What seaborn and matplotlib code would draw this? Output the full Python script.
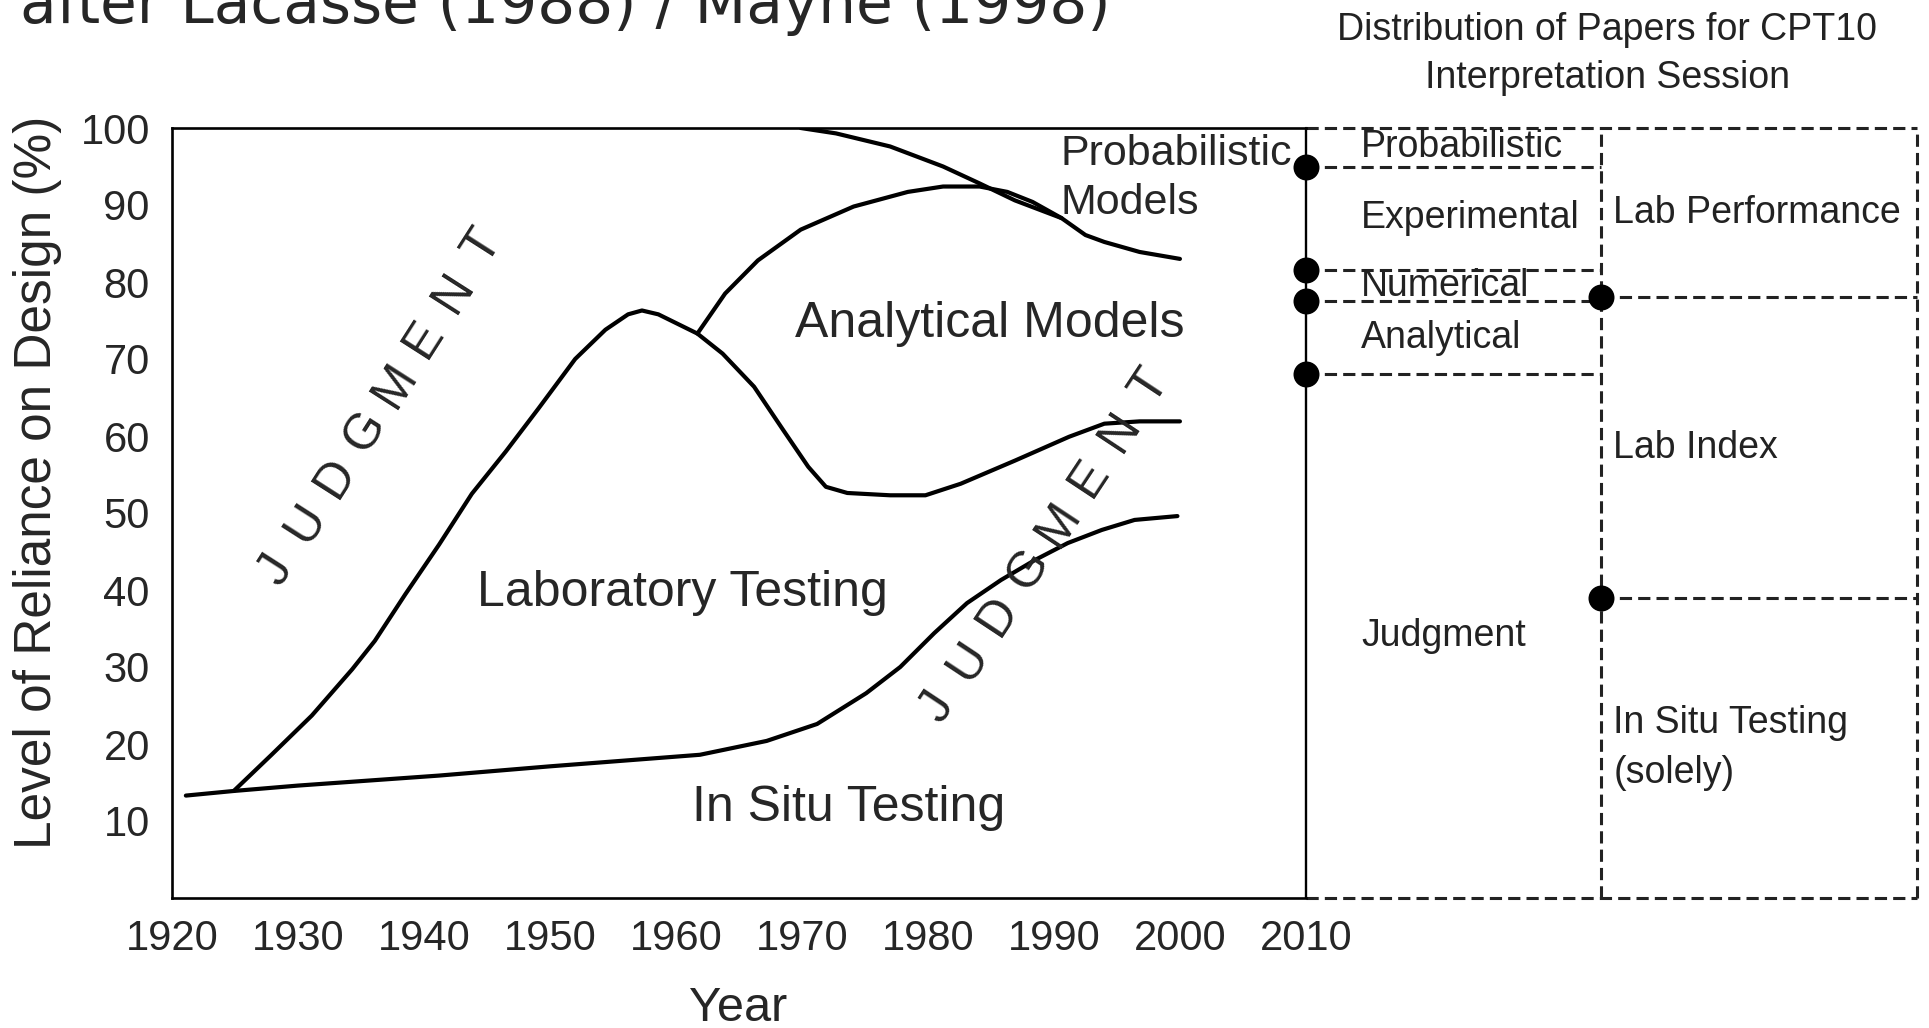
import numpy as np
import matplotlib
matplotlib.use("Agg")
import matplotlib.pyplot as plt
import seaborn as sns

sns.set_style("white")
plt.rcParams['font.family'] = ['Liberation Sans', 'DejaVu Sans']

# curves (year, % reliance)
in_situ_year = [1921.1, 1924.9, 1930, 1941.2, 1950, 1961.9, 1967.2, 1971.2, 1975.1, 1977.8,
                1980.5, 1983.1, 1985.8, 1988.5, 1991.1, 1993.8, 1996.4, 1999.8]
in_situ_val = [13.3, 13.9, 14.6, 15.9, 17.1, 18.6, 20.4, 22.6, 26.6, 30.0,
               34.4, 38.3, 41.3, 43.9, 46.1, 47.8, 49.1, 49.6]

lab_year = [1924.9, 1927.9, 1931.1, 1934.3, 1936.1, 1938.5, 1941.2, 1943.8, 1946.5, 1949.1,
            1952.0, 1954.4, 1956.2, 1957.3, 1958.6, 1961.7, 1963.7, 1966.2, 1968.5, 1970.5,
            1971.9, 1973.6, 1977.0, 1979.8, 1982.6, 1986.9, 1991.2, 1994.0, 1996.8, 2000]
lab_val = [13.9, 18.6, 23.7, 29.7, 33.4, 39.4, 45.9, 52.5, 58.0, 63.6,
           70.0, 73.8, 75.8, 76.3, 75.8, 73.3, 70.7, 66.4, 60.8, 56.0,
           53.4, 52.6, 52.3, 52.3, 53.8, 56.8, 59.9, 61.6, 61.9, 61.9]

analytical_year = [1961.7, 1963.9, 1966.5, 1969.9, 1974.1, 1978.4, 1981.2, 1984.1, 1986.3,
                   1988.3, 1990.6, 1992.5, 1994.0, 1996.8, 2000]
analytical_val = [73.3, 78.5, 82.8, 86.8, 89.8, 91.7, 92.4, 92.4, 91.7,
                  90.4, 88.3, 86.1, 85.2, 83.9, 83.0]

prob_year = [1969.9, 1972.7, 1977.0, 1981.2, 1984.1, 1986.9, 1990.6]
prob_val = [100, 99.3, 97.6, 95.0, 92.8, 90.6, 88.3]

# CPT10 interpretation session papers (%)
method_cats = ["Probabilistic", "Experimental", "Numerical", "Analytical", "Judgment"]
method_pct = [5, 13.5, 4, 9.5, 68]
source_cats = ["Lab Performance", "Lab Index", "In Situ Testing\n(solely)"]
source_pct = [22, 39, 39]

x_ticks = list(range(1920, 2011, 10))
y_ticks = list(range(10, 101, 10))

fig = plt.figure(figsize=(19.29, 10.28), dpi=100)
ax = fig.add_axes([172 / 1929, 1 - 898 / 1028, (1917 - 172) / 1929, (898 - 128) / 1028])
ax.set_xlim(1920, 2058.5)
ax.set_ylim(0, 100)

col0, col1, col2 = 2010, 2033.4, 2058.5

lw = 3.0
for xs, ys in [(in_situ_year, in_situ_val), (lab_year, lab_val),
               (analytical_year, analytical_val), (prob_year, prob_val)]:
    sns.lineplot(x=xs, y=ys, sort=False, estimator=None, color="black", lw=lw, ax=ax)

# frame
ax.spines["right"].set_visible(False)
for s in ["left", "top", "bottom"]:
    ax.spines[s].set_linewidth(1.9)
    ax.spines[s].set_color("black")
ax.spines["top"].set_bounds(1920, col0)
ax.spines["bottom"].set_bounds(1920, col0)
ax.plot([col0, col0], [0, 100], color="black", lw=1.7, clip_on=False)

ax.set_xticks(x_ticks)
ax.set_yticks(y_ticks)
ax.tick_params(axis="x", direction="in", length=16, width=1.5, labelsize=30, pad=15, color="black")
ax.tick_params(axis="y", direction="in", length=13, width=1.5, labelsize=30, pad=16, color="black")

ax.set_ylabel("Level of Reliance on Design (%)", fontsize=37, va="center")
ax.yaxis.set_label_coords(-0.0768, 0.54)
fig.text(738 / 1929, 1 - 1021 / 1028, "Year", fontsize=35, ha="center", va="baseline")

# dashed panel
dash = dict(color="#222222", lw=2.2, linestyle=(0, (4, 2)), clip_on=False)
ax.plot([col0, col2], [100, 100], **dash)
ax.plot([col0, col2], [0, 0], **dash)
ax.plot([col1, col1], [0, 100], **dash)
ax.plot([col2, col2], [0, 100], **dash)

left_edges = 100 - np.cumsum(method_pct)
right_edges = 100 - np.cumsum(source_pct)
for b in left_edges[:-1]:
    ax.plot([col0, col1], [b, b], **dash)
for b in right_edges[:-1]:
    ax.plot([col1, col2], [b, b], **dash)
sns.scatterplot(x=[col0] * (len(left_edges) - 1), y=left_edges[:-1], color="black", s=300,
                edgecolor="black", ax=ax, clip_on=False, zorder=5)
sns.scatterplot(x=[col1] * (len(right_edges) - 1), y=right_edges[:-1], color="black", s=300,
                edgecolor="black", ax=ax, clip_on=False, zorder=5)

tc = "#222222"
tops = 100 - np.concatenate([[0], np.cumsum(method_pct)[:-1]])
for name, top, p in zip(method_cats, tops, method_pct):
    ax.text(2014.4, top - p / 2, name, fontsize=27, color=tc, ha="left", va="center")
tops = 100 - np.concatenate([[0], np.cumsum(source_pct)[:-1]])
for name, top, p in zip(source_cats, tops, source_pct):
    ax.text(2034.4, top - p / 2, name, fontsize=27, color=tc, ha="left", va="center",
            linespacing=1.5)
ax.text(2033.9, 109.6, "Distribution of Papers for CPT10\nInterpretation Session",
        fontsize=27, color=tc, ha="center", va="center", linespacing=1.45, clip_on=False)

# region labels
ax.text(1960.5, 39.6, "Laboratory Testing", fontsize=36, ha="center", va="center")
ax.text(1973.7, 11.7, "In Situ Testing", fontsize=36, ha="center", va="center")
ax.text(1984.9, 74.6, "Analytical Models", fontsize=36, ha="center", va="center")
ax.text(1990.5, 93.4, "Probabilistic\nModels", fontsize=31, ha="left", va="center", linespacing=1.3)

# spaced-out JUDGMENT labels, letters laid along a slanted line
word = "JUDGMENT"
pitch = 55.0  # px between letter centres
px_year, px_pct = 1745 / 138.5, 770 / 100
for cx, cy, ang in [(1936.5, 63.6, 57.4), (1989.2, 45.6, 56.5)]:
    a = np.deg2rad(ang)
    for i, ch in enumerate(word):
        off = (i - (len(word) - 1) / 2) * pitch
        ax.text(cx + off * np.cos(a) / px_year, cy + off * np.sin(a) / px_pct, ch,
                fontsize=36, rotation=ang, ha="center", va="center", rotation_mode="anchor")

fig.text(20 / 1929, 1 - 23 / 1028, "after Lacasse (1988) / Mayne (1998)", fontsize=43,
         family="DejaVu Sans", ha="left", va="baseline")

fig.savefig("out.png", dpi=100)
